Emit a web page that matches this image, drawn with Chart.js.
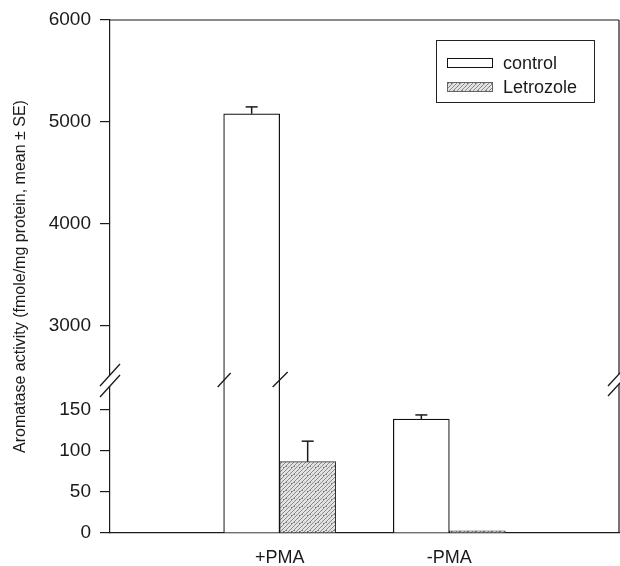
<!DOCTYPE html>
<html><head><meta charset="utf-8">
<script src="https://cdn.jsdelivr.net/npm/chart.js@4/dist/chart.umd.min.js"></script>
<style>html,body{margin:0;padding:0;background:#fff;}#wrap{width:620px;height:566px;position:relative;}</style>
</head><body><div id="wrap"><canvas id="c" width="620" height="566"></canvas></div>
<script>
// ---- data ----
const categories = ['', '+PMA', '-PMA', ''];
const seriesNames = ['control', 'Letrozole'];
const controlMean = [null, 5080, 139, null];
const controlSE = [null, 68, 5, null];
const letrozoleMean = [null, 87, 2.5, null];
const letrozoleSE = [null, 25, 0, null];
const upperTicks = [3000, 4000, 5000, 6000];
const lowerTicks = [0, 50, 100, 150];
const upperRange = [2470, 6000];
const lowerRange = [0, 186.6];
const yTitle = 'Aromatase activity (fmole/mg protein, mean \u00B1 SE)';

// ---- styles ----
const FONT = "'Liberation Sans', Arial, Helvetica, sans-serif";
const INK = '#1a1a1a';
Chart.defaults.font.family = FONT;
Chart.defaults.color = INK;

function makeHatch() {
  const c = document.createElement('canvas');
  c.width = 8; c.height = 8;
  const p = c.getContext('2d');
  p.fillStyle = '#e2e2e2'; p.fillRect(0, 0, 8, 8);
  p.strokeStyle = '#8c8c8c'; p.lineWidth = 1;
  p.beginPath();
  p.moveTo(0, 4); p.lineTo(4, 0);
  p.moveTo(0, 8); p.lineTo(8, 0);
  p.moveTo(4, 8); p.lineTo(8, 4);
  p.stroke();
  p.fillStyle = '#777';
  p.fillRect(1, 6, 1, 1); p.fillRect(6, 2, 1, 1); p.fillRect(3, 3, 1, 1);
  return p.createPattern(c, 'repeat');
}
const hatch = makeHatch();

const clipPlugin = {
  id: 'segClip',
  beforeDatasetDraw(chart, args) {
    const s = chart.scales[chart.data.datasets[args.index].yAxisID];
    const ctx = chart.ctx;
    ctx.save();
    ctx.beginPath();
    ctx.rect(0, s.top - 1, chart.width, s.bottom - s.top + 2);
    ctx.clip();
  },
  afterDatasetDraw(chart) { chart.ctx.restore(); }
};

function line(ctx, x1, y1, x2, y2) { ctx.beginPath(); ctx.moveTo(x1, y1); ctx.lineTo(x2, y2); ctx.stroke(); }

const decorPlugin = {
  id: 'decor',
  afterDatasetsDraw(chart) {
    const ctx = chart.ctx;
    const yLow = chart.scales.yLow, yHigh = chart.scales.yHigh;
    const sets = [[0, controlMean, controlSE], [1, letrozoleMean, letrozoleSE]];
    ctx.save();
    ctx.strokeStyle = INK; ctx.lineWidth = 1.5;
    sets.forEach(([di, mean, se]) => {
      const meta = chart.getDatasetMeta(di);
      mean.forEach((v, i) => {
        if (v == null || !se[i]) return;
        const s = v > lowerRange[1] ? yHigh : yLow;
        const x = meta.data[i].x;
        const y0 = s.getPixelForValue(v), y1 = s.getPixelForValue(v + se[i]);
        line(ctx, x, y0, x, y1);
        line(ctx, x - 6, y1, x + 6, y1);
      });
    });
    ctx.restore();
  },
  afterDraw(chart) {
    const ctx = chart.ctx;
    const a = chart.chartArea;
    const by = chart.scales.yHigh.bottom;
    ctx.save();
    ctx.strokeStyle = INK; ctx.lineWidth = 1.2;
    // frame top/right
    line(ctx, a.left, a.top, a.right, a.top);
    line(ctx, a.right, a.top, a.right, a.bottom);
    // axis gaps
    ctx.fillStyle = '#fff';
    ctx.fillRect(a.left - 2, by - 5, 4, 11);
    ctx.fillRect(a.right - 2, by - 6, 4, 10);
    ctx.lineWidth = 1.3;
    // left break
    line(ctx, a.left - 10, by + 6, a.left + 10, by - 16);
    line(ctx, a.left - 10, by + 17, a.left + 10, by - 5);
    // right break
    line(ctx, a.right - 11, by + 6, a.right + 2, by - 8);
    line(ctx, a.right - 11, by + 16, a.right + 2, by + 2);
    // bar break
    const bar = chart.getDatasetMeta(2).data[1];
    if (bar) {
      const l = bar.x - bar.width / 2, r = bar.x + bar.width / 2;
      line(ctx, l - 6, by + 7, l + 7, by - 7);
      line(ctx, r - 7, by + 7, r + 8, by - 8);
    }
    // legend
    ctx.lineWidth = 1;
    ctx.strokeStyle = '#222';
    ctx.strokeRect(436.5, 40.5, 158, 62);
    ctx.font = '18px ' + FONT;
    ctx.textBaseline = 'middle';
    ctx.textAlign = 'left';
    ctx.fillStyle = INK;
    const rows = [[63, '#fff', '#111'], [87, hatch, '#666']];
    rows.forEach(([cy, fill, stroke], k) => {
      ctx.fillStyle = fill;
      ctx.fillRect(447, cy - 5, 46, 10);
      ctx.strokeStyle = stroke;
      ctx.strokeRect(447.5, cy - 4.5, 45, 9);
      ctx.fillStyle = INK;
      ctx.fillText(seriesNames[k], 503, cy + 1);
    });
    // y title
    ctx.translate(21, (a.top + a.bottom) / 2);
    ctx.rotate(-Math.PI / 2);
    ctx.textAlign = 'center';
    ctx.font = '16px ' + FONT;
    ctx.fillText(yTitle, 0, 0);
    ctx.restore();
  }
};

function noPad(ax) { ax.paddingLeft = 0; ax.paddingRight = 0; ax.paddingTop = 0; ax.paddingBottom = 0; }

function yAxis(range, ticks, weight, sw) {
  return {
    type: 'linear', position: 'left', stack: 'v', stackWeight: sw, weight: weight,
    min: range[0], max: range[1], stacked: false,
    grid: { drawOnChartArea: false, drawTicks: true, tickLength: 10, color: INK, lineWidth: 1.2 },
    border: { display: true, color: INK, width: 1.2 },
    ticks: { padding: 9, font: { size: 19 }, color: INK, callback: v => String(v) },
    afterBuildTicks: ax => { ax.ticks = ticks.map(v => ({ value: v })); },
    afterFit: ax => { ax.width = 110; noPad(ax); }
  };
}

new Chart(document.getElementById('c').getContext('2d'), {
  type: 'bar',
  data: {
    labels: categories,
    datasets: [
      { label: seriesNames[0], data: controlMean, yAxisID: 'yLow', stack: 'control',
        backgroundColor: '#fff', borderColor: '#111', borderWidth: 1.2, barThickness: 56 },
      { label: seriesNames[1], data: letrozoleMean, yAxisID: 'yLow', stack: 'letrozole',
        backgroundColor: hatch, borderColor: '#333', borderWidth: 1, barThickness: 56 },
      { label: seriesNames[0] + ' upper', data: controlMean.map(v => (v != null && v > lowerRange[1]) ? v : null),
        yAxisID: 'yHigh', stack: 'control',
        backgroundColor: '#fff', borderColor: '#111', borderWidth: 1.2, barThickness: 56 }
    ]
  },
  options: {
    responsive: false, animation: false, devicePixelRatio: 1,
    layout: { padding: { left: 0, right: 1, top: 20, bottom: 0 } },
    plugins: { legend: { display: false }, tooltip: { enabled: false } },
    scales: {
      x: {
        type: 'category', offset: false,
        grid: { drawOnChartArea: false, drawTicks: false },
        border: { display: true, color: INK, width: 1.2 },
        ticks: { padding: 14, font: { size: 18 }, color: INK, autoSkip: false, maxRotation: 0 },
        afterFit: ax => { ax.height = 33; noPad(ax); }
      },
      yHigh: yAxis(upperRange, upperTicks, 1, 360),
      yLow: yAxis(lowerRange, lowerTicks, 0, 153)
    }
  },
  plugins: [clipPlugin, decorPlugin]
});
</script>
</body></html>
